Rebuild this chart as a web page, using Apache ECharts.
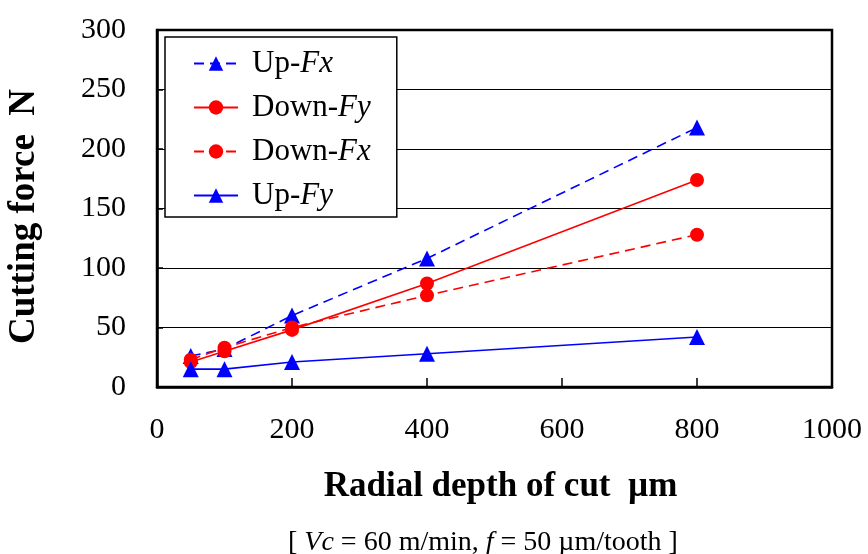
<!DOCTYPE html>
<html>
<head>
<meta charset="utf-8">
<script src="https://cdn.jsdelivr.net/npm/echarts@6/dist/echarts.min.js"></script>
<style>
  html, body { margin: 0; padding: 0; background: #fff; }
  #chart { width: 868px; height: 554px; }
</style>
</head>
<body>
<div id="chart"></div>
<script>
// Radial depth of cut (µm)
const depths = [50, 100, 200, 400, 800];

// Cutting force (N) per series
const upFx   = [26, 32, 60, 108, 218];
const downFy = [21, 30, 48, 87, 174];
const downFx = [23, 33, 50, 77, 128];
const upFy   = [15, 15, 21, 28, 42];

const xTicks = [0, 200, 400, 600, 800, 1000];
const yTicks = [0, 50, 100, 150, 200, 250, 300];

const serif = '"Liberation Serif", "Times New Roman", serif';
const BLUE = '#0000ff';
const RED = '#ff0000';

function pairs(vals) {
  return depths.map((d, i) => [d, vals[i]]);
}

function makeSeries(name, vals, color, dashed, symbol, size) {
  return {
    name: name,
    type: 'line',
    data: pairs(vals),
    symbol: symbol,
    symbolSize: size,
    lineStyle: { color: color, width: 1.6, type: dashed ? [10, 6] : 'solid' },
    itemStyle: { color: color },
    emphasis: { disabled: true },
    animation: false
  };
}

const legendRich = {
  n: { fontFamily: serif, fontSize: 31, color: '#000', lineHeight: 30 },
  i: { fontFamily: serif, fontSize: 31, color: '#000', fontStyle: 'italic', lineHeight: 30 }
};

const chart = echarts.init(document.getElementById('chart'));
chart.setOption({
  backgroundColor: '#fff',
  animation: false,
  grid: {
    left: 157, right: 36, top: 30, bottom: 167,
    outerBoundsMode: 'none',
    show: true, borderColor: '#000', borderWidth: 2.5, backgroundColor: 'transparent'
  },
  title: {
    text: '{n|[ }{i|Vc}{n| = 60 m/min, }{i|f}{n| = 50 µm/tooth ]}',
    left: 283, top: 524,
    textStyle: {
      fontWeight: 'normal',
      rich: {
        n: { fontFamily: serif, fontSize: 28, color: '#000', fontWeight: 'normal' },
        i: { fontFamily: serif, fontSize: 28, color: '#000', fontStyle: 'italic', fontWeight: 'normal' }
      }
    }
  },
  legend: {
    orient: 'vertical',
    left: 165, top: 37,
    padding: [11, 26, 6, 28],
    itemGap: 13,
    itemWidth: 44, itemHeight: 18,
    borderColor: '#000', borderWidth: 1.5,
    backgroundColor: '#fff',
    data: ['Up-Fx', 'Down-Fy', 'Down-Fx', 'Up-Fy'],
    formatter: function (name) {
      const parts = name.split('-');
      return '{n|' + parts[0] + '-}{i|' + parts[1] + '}';
    },
    textStyle: { rich: legendRich, padding: [0, 0, 0, 9] }
  },
  xAxis: {
    type: 'value', min: 0, max: 1000, interval: 200,
    name: 'Radial depth of cut  µm',
    nameLocation: 'middle', nameGap: 82,
    nameTextStyle: { fontFamily: serif, fontSize: 35, fontWeight: 'bold', color: '#000', padding: [0, 0, 0, 12] },
    axisLine: { show: true, lineStyle: { color: '#000', width: 2.5 } },
    axisTick: { show: true, inside: true, length: 9, lineStyle: { color: '#000', width: 1.5 } },
    axisLabel: { fontFamily: serif, fontSize: 30, color: '#000', margin: 28,
      formatter: v => xTicks.includes(v) ? String(v) : '' },
    splitLine: { show: false }
  },
  yAxis: {
    type: 'value', min: 0, max: 300, interval: 50,
    name: 'Cutting force  N',
    nameLocation: 'middle', nameGap: 114, nameRotate: 90,
    nameTextStyle: { fontFamily: serif, fontSize: 37, fontWeight: 'bold', color: '#000', padding: [0, 0, 0, -16] },
    axisLine: { show: true, lineStyle: { color: '#000', width: 2.5 } },
    axisTick: { show: true, inside: true, length: 6, lineStyle: { color: '#000', width: 1.5 } },
    axisLabel: { fontFamily: serif, fontSize: 30, color: '#000', margin: 31,
      formatter: v => yTicks.includes(v) ? String(v) : '' },
    splitLine: { show: true, lineStyle: { color: '#000', width: 1.2 } }
  },
  series: [
    makeSeries('Up-Fx', upFx, BLUE, true, 'triangle', 16),
    makeSeries('Down-Fy', downFy, RED, false, 'circle', 14),
    makeSeries('Down-Fx', downFx, RED, true, 'circle', 14),
    makeSeries('Up-Fy', upFy, BLUE, false, 'triangle', 16)
  ]
});
</script>
</body>
</html>
